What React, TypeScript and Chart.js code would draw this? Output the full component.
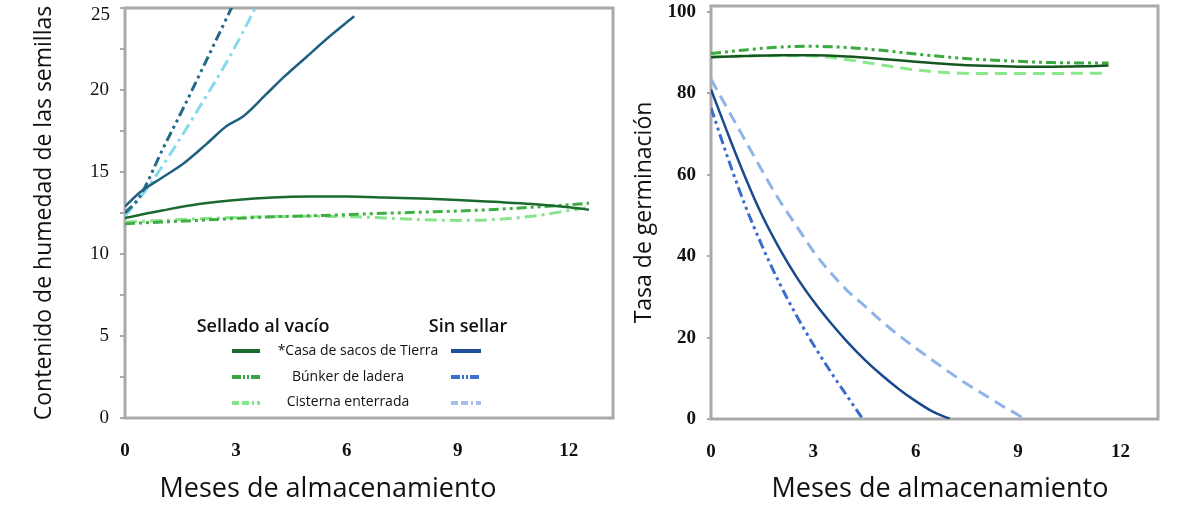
import React, { useEffect, useRef } from "react";
import { Chart, registerables } from "chart.js";

Chart.register(...registerables);

// ---------------- data ----------------
const monthTicks = [0, 3, 6, 9, 12];
const moistureTicks = [0, 2.5, 5, 7.5, 10, 12.5, 15, 17.5, 20, 22.5, 25];
const moistureLabelStep = 5;
const germinationTicks = [0, 20, 40, 60, 80, 100];

// Left chart: seed moisture content (%)
const moistSealedX = [0, 1, 2, 3, 4, 5, 6, 7, 8, 9, 10, 11, 12, 12.55];
const moistSealedCasa = [12.2, 12.65, 13.05, 13.3, 13.45, 13.5, 13.5, 13.45, 13.38, 13.3, 13.18, 13.05, 12.85, 12.7];
const moistSealedBunker = [11.85, 11.95, 12.05, 12.17, 12.27, 12.33, 12.4, 12.48, 12.55, 12.62, 12.72, 12.85, 13.0, 13.1];
const moistSealedCisterna = [11.95, 12.05, 12.15, 12.23, 12.28, 12.3, 12.28, 12.2, 12.1, 12.05, 12.1, 12.3, 12.65, 12.85];

const moistOpenCasaX = [0, 0.4, 1, 1.6, 2.2, 2.75, 3.2, 3.8, 4.3, 4.9, 5.5, 6.2];
const moistOpenCasa = [12.9, 13.75, 14.65, 15.55, 16.7, 17.8, 18.4, 19.7, 20.8, 22.0, 23.2, 24.5];
const moistOpenBunkerX = [0, 0.4, 1, 1.6, 2.2, 2.9];
const moistOpenBunker = [12.5, 13.5, 16.3, 19.0, 21.8, 25.1];
const moistOpenCisternaX = [0, 0.5, 1.2, 2, 2.8, 3.55];
const moistOpenCisterna = [12.3, 13.7, 16.0, 18.9, 21.9, 25.1];

// Right chart: germination rate (%)
const germSealedX = [0, 1, 2, 3, 4, 5, 6, 7, 8, 9, 10, 11, 11.65];
const germSealedCasa = [88.9, 89.2, 89.4, 89.4, 89.1, 88.5, 87.8, 87.2, 86.8, 86.6, 86.6, 86.7, 86.9];
const germSealedBunker = [89.8, 90.7, 91.4, 91.6, 91.3, 90.6, 89.7, 88.9, 88.3, 87.9, 87.6, 87.5, 87.5];
const germSealedCisterna = [89.0, 89.2, 89.3, 89.2, 88.3, 87.0, 85.8, 85.1, 84.9, 84.9, 84.9, 85.0, 85.0];

const germOpenCasaX = [0, 0.5, 1, 1.5, 2, 2.5, 3, 3.5, 4, 4.5, 5, 5.5, 6, 6.5, 7];
const germOpenCasa = [81, 70, 59.5, 50, 42, 35, 29, 23.7, 18.9, 14.6, 10.8, 7.4, 4.4, 1.8, 0];
const germOpenBunkerX = [0, 0.5, 1, 1.5, 2, 2.5, 3, 3.5, 4, 4.45];
const germOpenBunker = [76.5, 64, 52.5, 42.5, 33.5, 25.5, 18.3, 11.7, 5.5, 0];
const germOpenCisternaX = [0, 0.5, 1, 1.5, 2, 2.5, 3, 3.5, 4, 4.5, 5, 5.5, 6, 6.5, 7, 7.5, 8, 8.5, 9, 9.2];
const germOpenCisterna = [83.5, 76, 68.5, 61, 53.8, 47.5, 41.2, 36, 31.5, 27.8, 24, 20.6, 17.4, 14.4, 11.4, 8.6, 6, 3.4, 1, 0];

// ---------------- styles ----------------
const GRAY = "#a9a9a9";
const INK = "#111111";
const TITLE_FONT = '"Open Sans"';
const DASH_DOT_DOT = [10, 4, 3, 4, 3, 4];
const DASH_DOT = [12, 5, 3, 5];
const DASHED = [12, 7];

const zip = (xs: number[], ys: number[]) => xs.map((x, i) => ({ x, y: ys[i] }));

type TextItem = { text: string; x: number; y: number; font: string; align?: CanvasTextAlign };
type Sample = { x1: number; x2: number; y: number; color: string; dash: number[]; width: number };

function makeOverlay(texts: TextItem[], samples: Sample[]) {
  return {
    id: "overlay",
    beforeDatasetsDraw(chart: any) {
      const { ctx, chartArea } = chart;
      ctx.save();
      ctx.strokeStyle = GRAY;
      ctx.lineWidth = 3;
      ctx.strokeRect(chartArea.left, chartArea.top, chartArea.right - chartArea.left, chartArea.bottom - chartArea.top);
      ctx.restore();
    },
    afterDraw(chart: any) {
      const ctx = chart.ctx;
      ctx.save();
      ctx.fillStyle = INK;
      ctx.textBaseline = "middle";
      for (const t of texts) {
        ctx.textAlign = t.align || "center";
        ctx.font = t.font;
        ctx.fillText(t.text, t.x, t.y);
      }
      for (const s of samples) {
        ctx.beginPath();
        ctx.strokeStyle = s.color;
        ctx.lineWidth = s.width;
        ctx.setLineDash(s.dash);
        ctx.moveTo(s.x1, s.y);
        ctx.lineTo(s.x2, s.y);
        ctx.stroke();
      }
      ctx.restore();
    },
  };
}

function line(label: string, data: { x: number; y: number }[], color: string, dash: number[], width: number) {
  return {
    label,
    data,
    borderColor: color,
    backgroundColor: color,
    borderDash: dash,
    borderWidth: width,
    pointRadius: 0,
    fill: false,
    cubicInterpolationMode: "monotone" as const,
  };
}

const tickBold = { family: "Liberation Serif", size: 19, weight: "bold" as const };

const noPadV = (s: any, width: number) => {
  s.width = width;
  s.paddingTop = 0;
  s.paddingBottom = 0;
};
const noPadH = (s: any, height: number) => {
  s.height = height;
  s.paddingLeft = 0;
  s.paddingRight = 0;
};

function LeftChart() {
  const ref = useRef<HTMLCanvasElement>(null);
  useEffect(() => {
    const topTick = moistureTicks[moistureTicks.length - 1];
    const texts: TextItem[] = [
      { text: String(topTick), x: 110, y: 15, font: '19px "Liberation Serif"', align: "right" },
      { text: "Meses de almacenamiento", x: 328, y: 489, font: `27px ${TITLE_FONT}` },
      { text: "Sellado al vacío", x: 263, y: 327, font: `600 18px ${TITLE_FONT}` },
      { text: "Sin sellar", x: 468, y: 327, font: `600 18px ${TITLE_FONT}` },
      { text: "*Casa de sacos de Tierra", x: 358, y: 351, font: `14px ${TITLE_FONT}` },
      { text: "Búnker de ladera", x: 348, y: 377, font: `14px ${TITLE_FONT}` },
      { text: "Cisterna enterrada", x: 348, y: 402, font: `14px ${TITLE_FONT}` },
    ];
    const samples: Sample[] = [
      { x1: 232, x2: 260, y: 351, color: "#1d6b2e", dash: [], width: 4 },
      { x1: 232, x2: 260, y: 377, color: "#3aa543", dash: [9, 2, 2, 2, 2, 2], width: 4 },
      { x1: 232, x2: 260, y: 403, color: "#86e58a", dash: [7, 3, 7, 3, 2, 3], width: 4 },
      { x1: 451, x2: 481, y: 351, color: "#1d4f9c", dash: [], width: 4 },
      { x1: 451, x2: 481, y: 377, color: "#3b6fd2", dash: [9, 2, 2, 2, 2, 2], width: 4 },
      { x1: 451, x2: 481, y: 403, color: "#a3bfe9", dash: [7, 3, 7, 3, 2, 3], width: 4 },
    ];
    const chart = new Chart(ref.current!, {
      type: "line",
      data: {
        datasets: [
          line("Casa sellado", zip(moistSealedX, moistSealedCasa), "#1b6a2e", [], 2.5),
          line("Búnker sellado", zip(moistSealedX, moistSealedBunker), "#3fae45", DASH_DOT_DOT, 3),
          line("Cisterna sellado", zip(moistSealedX, moistSealedCisterna), "#88e38a", DASH_DOT, 3),
          line("Casa sin sellar", zip(moistOpenCasaX, moistOpenCasa), "#1f6080", [], 2.5),
          line("Búnker sin sellar", zip(moistOpenBunkerX, moistOpenBunker), "#236b86", DASH_DOT_DOT, 3),
          line("Cisterna sin sellar", zip(moistOpenCisternaX, moistOpenCisterna), "#86d9ee", DASH_DOT, 3),
        ],
      },
      options: {
        responsive: false,
        animation: false,
        layout: { padding: { left: 0, top: 8, right: 7, bottom: 0 } },
        plugins: { legend: { display: false }, tooltip: { enabled: false } },
        scales: {
          x: {
            type: "linear",
            min: 0,
            max: 13.2,
            afterBuildTicks: (s: any) => { s.ticks = monthTicks.map((v) => ({ value: v })); },
            afterFit: (s: any) => noPadH(s, 107),
            grid: { display: false },
            border: { display: false },
            ticks: { color: INK, font: tickBold, padding: 14, maxRotation: 0, autoSkip: false },
          },
          y: {
            type: "linear",
            min: 0,
            max: 25,
            afterBuildTicks: (s: any) => { s.ticks = moistureTicks.map((v) => ({ value: v })); },
            afterFit: (s: any) => noPadV(s, 125),
            grid: { drawOnChartArea: false, drawTicks: true, tickLength: 5, color: GRAY, lineWidth: 2 },
            border: { display: false },
            ticks: {
              color: INK,
              font: { family: "Liberation Serif", size: 19 },
              padding: 11,
              autoSkip: false,
              // top label is drawn by the overlay, slightly lowered so it is not clipped
              callback: (v: any) =>
                Number(v) % moistureLabelStep === 0 && Number(v) !== topTick ? String(v) : "",
            },
            title: {
              display: true,
              text: "Contenido de humedad de las semillas",
              color: INK,
              font: { family: "Open Sans", size: 23 },
              padding: { top: 31, bottom: 0 },
            },
          },
        },
      },
      plugins: [makeOverlay(texts, samples)],
    } as any);
    return () => chart.destroy();
  }, []);
  return <canvas ref={ref} width={620} height={525} style={{ display: "block" }} />;
}

function RightChart() {
  const ref = useRef<HTMLCanvasElement>(null);
  useEffect(() => {
    const texts: TextItem[] = [
      { text: "Meses de almacenamiento", x: 320, y: 489, font: `27px ${TITLE_FONT}` },
    ];
    const chart = new Chart(ref.current!, {
      type: "line",
      data: {
        datasets: [
          line("Casa sellado", zip(germSealedX, germSealedCasa), "#15561f", [], 2.5),
          line("Búnker sellado", zip(germSealedX, germSealedBunker), "#3aaa3e", DASH_DOT_DOT, 3),
          line("Cisterna sellado", zip(germSealedX, germSealedCisterna), "#8ae88c", DASHED, 3),
          line("Casa sin sellar", zip(germOpenCasaX, germOpenCasa), "#1a4a8e", [], 2.5),
          line("Búnker sin sellar", zip(germOpenBunkerX, germOpenBunker), "#3a6cd0", DASH_DOT_DOT, 3),
          line("Cisterna sin sellar", zip(germOpenCisternaX, germOpenCisterna), "#8fb4e8", DASHED, 3),
        ],
      },
      options: {
        responsive: false,
        animation: false,
        layout: { padding: { left: 0, top: 6, right: 42, bottom: 0 } },
        plugins: { legend: { display: false }, tooltip: { enabled: false } },
        scales: {
          x: {
            type: "linear",
            min: 0,
            max: 13.1,
            afterBuildTicks: (s: any) => { s.ticks = monthTicks.map((v) => ({ value: v })); },
            afterFit: (s: any) => noPadH(s, 106),
            grid: { display: false },
            border: { display: false },
            ticks: { color: INK, font: tickBold, padding: 14, maxRotation: 0, autoSkip: false },
          },
          y: {
            type: "linear",
            min: 0,
            max: 101.5,
            afterBuildTicks: (s: any) => { s.ticks = germinationTicks.map((v) => ({ value: v })); },
            afterFit: (s: any) => noPadV(s, 91),
            grid: { drawOnChartArea: false, drawTicks: true, tickLength: 4, color: GRAY, lineWidth: 2 },
            border: { display: false },
            ticks: { color: INK, font: tickBold, padding: 11, autoSkip: false },
            title: {
              display: true,
              text: "Tasa de germinación",
              color: INK,
              font: { family: "Open Sans", size: 23 },
              padding: { top: 11, bottom: 0 },
            },
          },
        },
      },
      plugins: [makeOverlay(texts, [])],
    } as any);
    return () => chart.destroy();
  }, []);
  return <canvas ref={ref} width={580} height={525} style={{ display: "block" }} />;
}

export default function App() {
  return (
    <div
      style={{
        position: "absolute",
        left: 0,
        top: 0,
        width: 1200,
        height: 525,
        background: "#ffffff",
        display: "flex",
        flexDirection: "row",
      }}
    >
      <LeftChart />
      <RightChart />
    </div>
  );
}
